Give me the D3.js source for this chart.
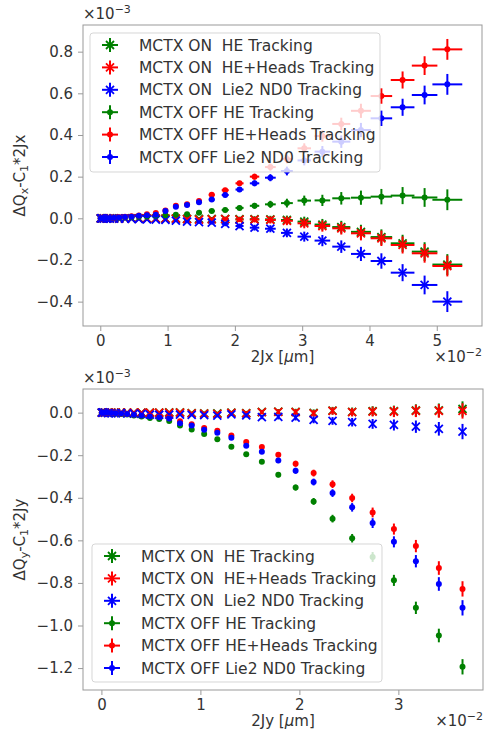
<!DOCTYPE html>
<html>
<head>
<meta charset="utf-8">
<script src="https://cdn.jsdelivr.net/npm/d3@7"></script>
<style>
  body { margin: 0; background: #fff; }
  svg { font-family: "DejaVu Sans", sans-serif; }
</style>
</head>
<body>
<div id="chart"></div>
<script>
// ---- data (x in units of 1e-2, y in units of 1e-3) ----
const seriesLabels = [
  'MCTX ON  HE Tracking',
  'MCTX ON  HE+Heads Tracking',
  'MCTX ON  Lie2 ND0 Tracking',
  'MCTX OFF HE Tracking',
  'MCTX OFF HE+Heads Tracking',
  'MCTX OFF Lie2 ND0 Tracking'
];

// top panel: 2Jx
const topX = [0.006, 0.023, 0.052, 0.092, 0.143, 0.206, 0.281, 0.367, 0.464, 0.573,
  0.693, 0.825, 0.968, 1.123, 1.289, 1.467, 1.656, 1.856, 2.069, 2.292,
  2.527, 2.773, 3.031, 3.300, 3.581, 3.873, 4.177, 4.492, 4.819, 5.157];
const topXErr = [0.001, 0.001, 0.001, 0.001, 0.002, 0.003, 0.004, 0.006, 0.008, 0.010,
  0.013, 0.017, 0.021, 0.026, 0.032, 0.038, 0.045, 0.052, 0.060, 0.070,
  0.080, 0.088, 0.100, 0.116, 0.134, 0.148, 0.160, 0.176, 0.190, 0.222];
const topYErr = [0.004, 0.004, 0.004, 0.004, 0.004, 0.004, 0.004, 0.004, 0.005, 0.005,
  0.005, 0.005, 0.006, 0.007, 0.007, 0.008, 0.009, 0.011, 0.012, 0.014,
  0.017, 0.021, 0.024, 0.027, 0.030, 0.034, 0.037, 0.041, 0.045, 0.050];
const topOnHE = [0, 0, 0, 0, 0, 0, 0, 0, 0, 0,
  -0.002, -0.002, -0.002, -0.002, -0.003, -0.003, -0.003, -0.003, -0.004, -0.004,
  -0.005, -0.008, -0.016, -0.030, -0.042, -0.065, -0.090, -0.120, -0.160, -0.222];
const topOnHeads = [0, 0, 0, 0, 0, 0, -0.001, -0.001, -0.001, -0.001,
  -0.002, -0.002, -0.002, -0.002, -0.004, -0.006, -0.005, -0.004, -0.006, -0.006,
  -0.008, -0.012, -0.024, -0.037, -0.048, -0.072, -0.096, -0.128, -0.168, -0.229];
const topOnLie2 = [0, 0, -0.001, -0.001, -0.001, -0.002, -0.002, -0.002, -0.003, -0.004,
  -0.005, -0.006, -0.007, -0.011, -0.016, -0.018, -0.021, -0.027, -0.037, -0.045,
  -0.050, -0.070, -0.088, -0.107, -0.136, -0.171, -0.205, -0.261, -0.320, -0.400];
const topOffHE = [0, 0.001, 0.001, 0.002, 0.002, 0.003, 0.003, 0.004, 0.005, 0.007,
  0.009, 0.012, 0.015, 0.017, 0.020, 0.027, 0.035, 0.040, 0.050, 0.060,
  0.067, 0.073, 0.085, 0.086, 0.096, 0.099, 0.104, 0.109, 0.100, 0.089];
const topOffHeads = [0, 0, 0.001, 0.001, 0.002, 0.003, 0.005, 0.007, 0.010, 0.014,
  0.020, 0.026, 0.037, 0.060, 0.068, 0.083, 0.113, 0.135, 0.168, 0.200,
  0.246, 0.285, 0.336, 0.395, 0.453, 0.516, 0.587, 0.664, 0.733, 0.811];
const topOffLie2 = [0, 0, 0.001, 0.001, 0.002, 0.003, 0.004, 0.006, 0.008, 0.012,
  0.015, 0.017, 0.035, 0.055, 0.064, 0.077, 0.090, 0.112, 0.138, 0.168,
  0.195, 0.227, 0.278, 0.320, 0.368, 0.424, 0.480, 0.533, 0.592, 0.643];
const topXTicks = [0, 1, 2, 3, 4, 5];
const topYTicks = [-0.4, -0.2, 0.0, 0.2, 0.4, 0.6, 0.8];

// bottom panel: 2Jy
const botX = [0.004, 0.016, 0.036, 0.065, 0.101, 0.146, 0.199, 0.259, 0.328, 0.405,
  0.490, 0.584, 0.685, 0.794, 0.912, 1.038, 1.171, 1.313, 1.463, 1.621,
  1.787, 1.962, 2.144, 2.335, 2.533, 2.740, 2.955, 3.177, 3.409, 3.648];
const botXErr = [0.001, 0.001, 0.001, 0.001, 0.001, 0.001, 0.001, 0.001, 0.001, 0.001,
  0.002, 0.002, 0.002, 0.002, 0.002, 0.003, 0.003, 0.003, 0.003, 0.003,
  0.004, 0.004, 0.004, 0.004, 0.004, 0.005, 0.006, 0.007, 0.008, 0.010];
const botYErr = [0.004, 0.004, 0.004, 0.004, 0.004, 0.004, 0.004, 0.004, 0.004, 0.004,
  0.006, 0.006, 0.006, 0.006, 0.006, 0.008, 0.008, 0.008, 0.010, 0.010,
  0.012, 0.014, 0.016, 0.018, 0.020, 0.023, 0.026, 0.029, 0.032, 0.036];
const botOnHE = [0, 0, 0, 0, 0, 0, 0, 0, 0, 0,
  0, 0, 0.001, 0.001, -0.002, -0.003, -0.004, 0, -0.002, 0.003,
  0.005, 0.004, -0.001, 0.009, 0.004, 0.007, 0.007, 0.010, 0.011, 0.017];
const botOnHeads = [0, 0, 0, 0, 0, 0, 0, 0, 0, 0,
  0, 0, 0, 0, -0.003, -0.005, -0.006, -0.001, -0.003, 0.002,
  0.004, 0.002, -0.003, 0.008, 0.002, 0.005, 0.005, 0.008, 0.008, 0.008];
const botOnLie2 = [0, 0.001, 0, -0.002, -0.003, -0.004, -0.002, -0.003, -0.005, -0.006,
  -0.009, -0.010, -0.009, -0.009, -0.011, -0.012, -0.014, -0.008, -0.013, -0.021,
  -0.020, -0.023, -0.034, -0.039, -0.045, -0.053, -0.058, -0.066, -0.076, -0.089];
const botOffHE = [0, 0, -0.001, -0.002, -0.003, -0.004, -0.006, -0.009, -0.013, -0.018,
  -0.025, -0.030, -0.039, -0.060, -0.079, -0.100, -0.125, -0.160, -0.195, -0.231,
  -0.292, -0.352, -0.417, -0.498, -0.590, -0.678, -0.788, -0.917, -1.047, -1.194];
const botOffHeads = [0, 0, -0.001, -0.001, -0.002, -0.003, -0.004, -0.006, -0.009, -0.012,
  -0.015, -0.019, -0.025, -0.040, -0.055, -0.072, -0.085, -0.107, -0.138, -0.162,
  -0.198, -0.240, -0.284, -0.336, -0.401, -0.469, -0.547, -0.627, -0.730, -0.828];
const botOffLie2 = [0, 0, -0.001, -0.001, -0.002, -0.003, -0.004, -0.007, -0.010, -0.013,
  -0.018, -0.022, -0.028, -0.050, -0.060, -0.081, -0.095, -0.118, -0.156, -0.184,
  -0.225, -0.273, -0.326, -0.378, -0.445, -0.519, -0.607, -0.698, -0.805, -0.917];
const botXTicks = [0, 1, 2, 3];
const botYTicks = [-1.2, -1.0, -0.8, -0.6, -0.4, -0.2, 0.0];

// ---- styles ----
const seriesColors = ['#008000', '#ff0000', '#0000ff', '#008000', '#ff0000', '#0000ff'];
const seriesMarker = ['x', 'x', 'x', 'dot', 'dot', 'dot'];
const textColor = '#333';
const spineColor = '#999';
const fontSize = '15px';
const W = 488, H = 734;

const svg = d3.select('#chart').append('svg')
  .attr('width', W)
  .attr('height', H);

function drawPanel(cfg) {
  const x = d3.scaleLinear().domain(cfg.xDomain).range([cfg.left, cfg.right]);
  const y = d3.scaleLinear().domain(cfg.yDomain).range([cfg.bottom, cfg.top]);
  const g = svg.append('g');

  // clip to axes box
  g.append('clipPath').attr('id', cfg.id + '-clip')
    .append('rect')
    .attr('x', cfg.left).attr('y', cfg.top)
    .attr('width', cfg.right - cfg.left).attr('height', cfg.bottom - cfg.top);

  const plot = g.append('g').attr('clip-path', `url(#${cfg.id}-clip)`);

  cfg.series.forEach((vals, si) => {
    const color = seriesColors[si];
    const sg = plot.append('g');
    const pts = vals.map((v, i) => ({ x: cfg.xs[i], y: v, xe: cfg.xerr[i], ye: cfg.yerr[i] }));

    // horizontal error bars
    sg.selectAll('.hbar').data(pts).enter().append('line')
      .attr('x1', d => x(d.x - d.xe)).attr('x2', d => x(d.x + d.xe))
      .attr('y1', d => y(d.y)).attr('y2', d => y(d.y))
      .attr('stroke', color).attr('stroke-width', 2);
    // vertical error bars
    sg.selectAll('.vbar').data(pts).enter().append('line')
      .attr('x1', d => x(d.x)).attr('x2', d => x(d.x))
      .attr('y1', d => y(d.y - d.ye)).attr('y2', d => y(d.y + d.ye))
      .attr('stroke', color).attr('stroke-width', 2);

    if (seriesMarker[si] === 'x') {
      sg.selectAll('.mk').data(pts).enter().append('path')
        .attr('transform', d => `translate(${x(d.x)},${y(d.y)})`)
        .attr('d', 'M-4,-4L4,4M-4,4L4,-4')
        .attr('stroke', color).attr('stroke-width', 1.8).attr('fill', 'none');
    } else {
      sg.selectAll('.mk').data(pts).enter().append('circle')
        .attr('cx', d => x(d.x)).attr('cy', d => y(d.y))
        .attr('r', 3).attr('fill', color);
    }
  });

  // axes
  const xAxis = d3.axisBottom(x).tickValues(cfg.xTicks).tickFormat(d3.format('d'))
    .tickSize(5).tickPadding(4);
  const yAxis = d3.axisLeft(y).tickValues(cfg.yTicks).tickFormat(d3.format('.1f'))
    .tickSize(5).tickPadding(5);

  const gx = g.append('g').attr('transform', `translate(0,${cfg.bottom})`).call(xAxis);
  const gy = g.append('g').attr('transform', `translate(${cfg.left},0)`).call(yAxis);
  [gx, gy].forEach(a => {
    a.select('.domain').remove();
    a.selectAll('.tick line').attr('stroke', spineColor);
    a.selectAll('.tick text').attr('fill', textColor)
      .style('font-size', fontSize).style('font-family', '"DejaVu Sans", sans-serif');
  });

  // frame
  g.append('rect')
    .attr('x', cfg.left).attr('y', cfg.top)
    .attr('width', cfg.right - cfg.left).attr('height', cfg.bottom - cfg.top)
    .attr('fill', 'none').attr('stroke', spineColor).attr('stroke-width', 1);

  // offset texts
  const off3 = g.append('text').attr('x', cfg.left).attr('y', cfg.top - 6)
    .attr('fill', textColor).style('font-size', fontSize);
  off3.append('tspan').text('\u00d710');
  off3.append('tspan').attr('dy', -6).style('font-size', '11px').text('\u22123');

  const off2 = g.append('text').attr('x', cfg.right).attr('y', cfg.bottom + 36)
    .attr('text-anchor', 'end').attr('fill', textColor).style('font-size', fontSize);
  off2.append('tspan').text('\u00d710');
  off2.append('tspan').attr('dy', -6).style('font-size', '11px').text('\u22122');

  // x label, with italic mu as in mathtext
  const xl = g.append('text')
    .attr('x', (cfg.left + cfg.right) / 2).attr('y', cfg.bottom + 36)
    .attr('text-anchor', 'middle').attr('fill', textColor).style('font-size', fontSize);
  xl.append('tspan').text(cfg.xLabel + ' [');
  xl.append('tspan').style('font-style', 'italic').text('\u03bc');
  xl.append('tspan').text('m]');

  // y label with subscripts
  const yl = g.append('text')
    .attr('transform', `translate(25,${(cfg.top + cfg.bottom) / 2}) rotate(-90)`)
    .attr('text-anchor', 'middle').attr('fill', textColor).style('font-size', fontSize);
  yl.append('tspan').text('\u0394Q');
  yl.append('tspan').attr('dy', 3).style('font-size', '11px').text(cfg.sub);
  yl.append('tspan').attr('dy', -3).text('-C');
  yl.append('tspan').attr('dy', 3).style('font-size', '11px').text('1');
  yl.append('tspan').attr('dy', -3).text('*2J' + cfg.sub);

  // legend
  const lg = g.append('g');
  lg.append('rect')
    .attr('x', cfg.legend.x).attr('y', cfg.legend.y)
    .attr('width', cfg.legend.w).attr('height', cfg.legend.h)
    .attr('rx', 3)
    .attr('fill', 'white').attr('fill-opacity', 0.8)
    .attr('stroke', '#cccccc').attr('stroke-opacity', 0.8);

  seriesLabels.forEach((lab, i) => {
    const cy = cfg.legend.y + 12 + i * 22.4;
    const cx = cfg.legend.x + 20;
    const color = seriesColors[i];
    const row = lg.append('g');
    row.append('line').attr('x1', cx - 8).attr('x2', cx + 8).attr('y1', cy).attr('y2', cy)
      .attr('stroke', color).attr('stroke-width', 2);
    row.append('line').attr('x1', cx).attr('x2', cx).attr('y1', cy - 7).attr('y2', cy + 7)
      .attr('stroke', color).attr('stroke-width', 2);
    if (seriesMarker[i] === 'x') {
      row.append('path').attr('transform', `translate(${cx},${cy})`)
        .attr('d', 'M-4,-4L4,4M-4,4L4,-4')
        .attr('stroke', color).attr('stroke-width', 1.8).attr('fill', 'none');
    } else {
      row.append('circle').attr('cx', cx).attr('cy', cy).attr('r', 3).attr('fill', color);
    }
    row.append('text')
      .attr('x', cfg.legend.x + 49).attr('y', cy + 5.5)
      .attr('fill', textColor)
      .style('font-size', '15.5px')
      .style('white-space', 'pre')
      .text(lab);
  });
}

drawPanel({
  id: 'top',
  left: 83, right: 482, top: 25, bottom: 326,
  xDomain: [-0.257, 5.672], yDomain: [-0.517, 0.928],
  xs: topX, xerr: topXErr, yerr: topYErr,
  series: [topOnHE, topOnHeads, topOnLie2, topOffHE, topOffHeads, topOffLie2],
  xTicks: topXTicks, yTicks: topYTicks,
  xLabel: '2Jx', sub: 'x',
  legend: { x: 90, y: 33, w: 290, h: 139 }
});

drawPanel({
  id: 'bot',
  left: 83, right: 483, top: 389, bottom: 690,
  xDomain: [-0.186, 3.855], yDomain: [-1.303, 0.111],
  xs: botX, xerr: botXErr, yerr: botYErr,
  series: [botOnHE, botOnHeads, botOnLie2, botOffHE, botOffHeads, botOffLie2],
  xTicks: botXTicks, yTicks: botYTicks,
  xLabel: '2Jy', sub: 'y',
  legend: { x: 92, y: 544, w: 290, h: 138 }
});
</script>
</body>
</html>
